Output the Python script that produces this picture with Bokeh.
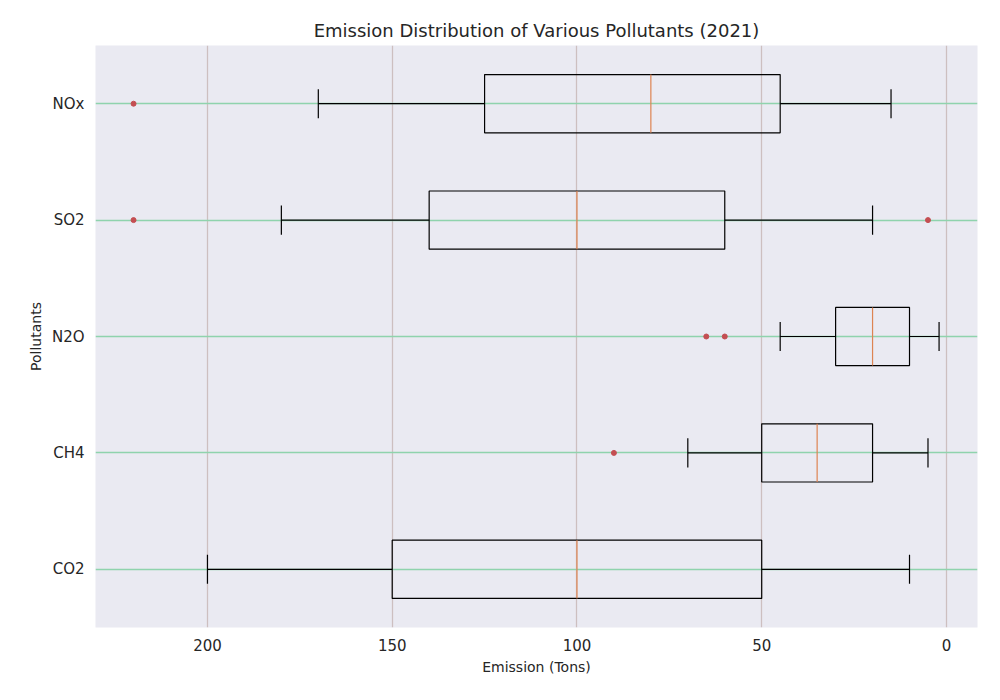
from bokeh.plotting import figure
from bokeh.models import ColumnDataSource, Range1d, FixedTicker
from bokeh.embed import file_html
from bokeh.resources import INLINE

pollutants = ["CO2", "CH4", "N2O", "SO2", "NOx"]
whisker_low = [10, 5, 2, 20, 15]
q1 = [50, 20, 10, 60, 45]
median = [100, 35, 20, 100, 80]
q3 = [150, 50, 30, 140, 125]
whisker_high = [200, 70, 45, 180, 170]
outliers = {"CH4": [90], "N2O": [65, 60], "SO2": [220, 5], "NOx": [220]}

pos = list(range(1, len(pollutants) + 1))
src = ColumnDataSource(dict(y=pos, lo=whisker_low, q1=q1, med=median, q3=q3, hi=whisker_high,
                            ylo=[v - 0.25 for v in pos], yhi=[v + 0.25 for v in pos],
                            clo=[v - 0.125 for v in pos], chi=[v + 0.125 for v in pos]))

p = figure(width=992, height=692, output_backend="svg", toolbar_location=None,
           x_range=Range1d(230.3, -8.4), y_range=Range1d(0.5, 5.5),
           title="Emission Distribution of Various Pollutants (2021)",
           min_border_left=95, min_border_right=15, min_border_top=45, min_border_bottom=65)
p.background_fill_color = "#eaeaf2"
p.outline_line_color = None
p.title.align = "center"
p.title.text_font = "DejaVu Sans"
p.title.text_font_size = "18px"
p.title.text_font_style = "normal"
p.title.text_color = "#262626"

p.xaxis.axis_label = "Emission (Tons)"
p.yaxis.axis_label = "Pollutants"
for ax in (p.xaxis, p.yaxis):
    ax.axis_line_color = None
    ax.major_tick_line_color = None
    ax.minor_tick_line_color = None
    ax.major_label_text_font = "DejaVu Sans"
    ax.major_label_text_font_size = "15px"
    ax.major_label_text_color = "#262626"
    ax.axis_label_text_font = "DejaVu Sans"
    ax.axis_label_text_font_size = "14px"
    ax.axis_label_text_font_style = "normal"
    ax.axis_label_text_color = "#262626"
p.xaxis.ticker = FixedTicker(ticks=[0, 50, 100, 150, 200])
p.yaxis.ticker = FixedTicker(ticks=pos)
p.yaxis.major_label_overrides = {v: n for v, n in zip(pos, pollutants)}
p.xgrid.grid_line_color = "#cdbfc0"
p.xgrid.grid_line_width = 1.3
p.ygrid.grid_line_color = "#8fd3ad"
p.ygrid.grid_line_width = 1.3

p.segment(x0="lo", y0="y", x1="q1", y1="y", source=src, line_color="black", line_width=1.2)
p.segment(x0="q3", y0="y", x1="hi", y1="y", source=src, line_color="black", line_width=1.2)
p.segment(x0="lo", y0="clo", x1="lo", y1="chi", source=src, line_color="black", line_width=1.2)
p.segment(x0="hi", y0="clo", x1="hi", y1="chi", source=src, line_color="black", line_width=1.2)
p.hbar(y="y", left="q1", right="q3", height=0.5, source=src, fill_color=None,
       line_color="black", line_width=1.2)
p.segment(x0="med", y0="ylo", x1="med", y1="yhi", source=src, line_color="#dd8452", line_width=1.2)

ox, oy = [], []
for name, vals in outliers.items():
    for v in vals:
        ox.append(v)
        oy.append(pos[pollutants.index(name)])
p.scatter(ox, oy, size=5, color="#c44e52")

open("out.html", "w").write(file_html(p, INLINE))
